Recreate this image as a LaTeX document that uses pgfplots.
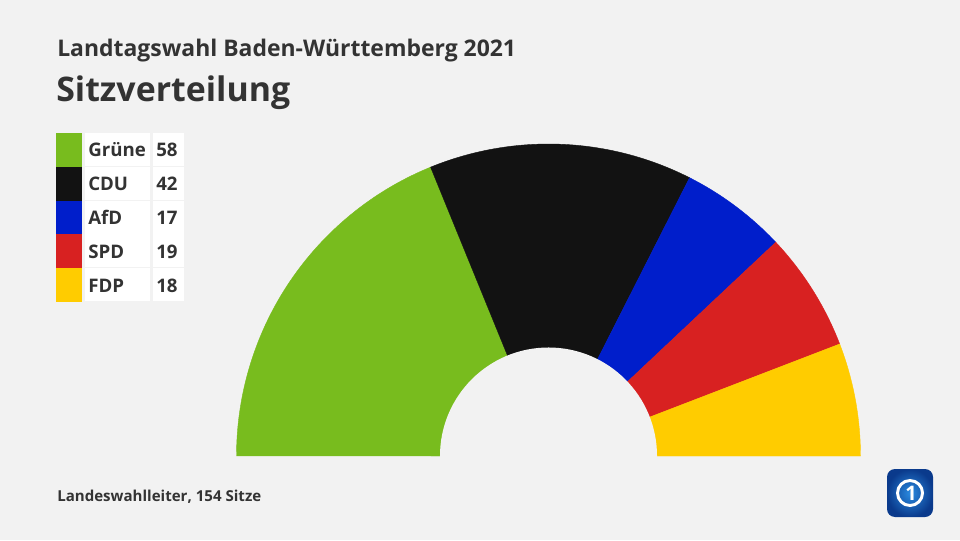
\documentclass[border=0pt]{standalone}
\usepackage{pgfplots}
\pgfplotsset{compat=1.18}
\usepackage{pgfplotstable}
\usepackage{fontspec}
\setmainfont{Open Sans}
\definecolor{bg}{HTML}{F2F2F2}
\definecolor{tc}{HTML}{333333}
\definecolor{cGruene}{HTML}{78BC1E}
\definecolor{cCDU}{HTML}{121212}
\definecolor{cAfD}{HTML}{001ECB}
\definecolor{cSPD}{HTML}{D82121}
\definecolor{cFDP}{HTML}{FFCC00}
\definecolor{logoA}{HTML}{2A8AE0}
\definecolor{logoB}{HTML}{0A3A8C}

\pgfplotstableread{
party seats
Grüne 58
CDU 42
AfD 17
SPD 19
FDP 18
}\seattable

\pgfplotstablegetelem{0}{seats}\of\seattable \edef\sA{\pgfplotsretval}
\pgfplotstablegetelem{1}{seats}\of\seattable \edef\sB{\pgfplotsretval}
\pgfplotstablegetelem{2}{seats}\of\seattable \edef\sC{\pgfplotsretval}
\pgfplotstablegetelem{3}{seats}\of\seattable \edef\sD{\pgfplotsretval}
\pgfplotstablegetelem{4}{seats}\of\seattable \edef\sE{\pgfplotsretval}
\pgfmathsetmacro\total{\sA+\sB+\sC+\sD+\sE}
\pgfmathsetmacro\tA{180}
\pgfmathsetmacro\tB{\tA-180*\sA/\total}
\pgfmathsetmacro\tC{\tB-180*\sB/\total}
\pgfmathsetmacro\tD{\tC-180*\sC/\total}
\pgfmathsetmacro\tE{\tD-180*\sD/\total}
\pgfmathsetmacro\tF{0}

\begin{document}
\begin{tikzpicture}
\begin{scope}[x=0.75pt,y=0.75pt]
\fill[bg] (0,0) rectangle (960,540);
\end{scope}
\begin{axis}[
  at={(177.375pt,63pt)}, anchor=south west,
  scale only axis, width=468pt, height=234pt,
  xmin=-1, xmax=1, ymin=0, ymax=1,
  hide axis, clip=false,
]
\addplot[fill=cGruene, draw=cGruene, line width=0.3pt, domain=\tB:\tA, samples=120, variable=\t] ({cos(\t)},{sin(\t)}) -- (0,0) -- cycle;
\addplot[fill=cCDU, draw=cCDU, line width=0.3pt, domain=\tC:\tB, samples=100, variable=\t] ({cos(\t)},{sin(\t)}) -- (0,0) -- cycle;
\addplot[fill=cAfD, draw=cAfD, line width=0.3pt, domain=\tD:\tC, samples=60, variable=\t] ({cos(\t)},{sin(\t)}) -- (0,0) -- cycle;
\addplot[fill=cSPD, draw=cSPD, line width=0.3pt, domain=\tE:\tD, samples=60, variable=\t] ({cos(\t)},{sin(\t)}) -- (0,0) -- cycle;
\addplot[fill=cFDP, draw=cFDP, line width=0.3pt, domain=\tF:\tE, samples=60, variable=\t] ({cos(\t)},{sin(\t)}) -- (0,0) -- cycle;
\begin{scope}
\clip (axis cs:-1,0) rectangle (axis cs:1,1);
\fill[bg] (axis cs:0,0) circle[radius=0.3478];
\end{scope}
\end{axis}
\begin{scope}[x=0.75pt,y=0.75pt]
% titles
\node[anchor=base west, inner sep=0, text=tc, font=\fontsize{17.2}{20}\selectfont\bfseries] at (57,483) {Landtagswahl Baden-Württemberg 2021};
\node[anchor=base west, inner sep=0, text=tc, font=\fontsize{25.4}{30}\selectfont\bfseries] at (56,438) {Sitzverteilung};
% legend
\foreach \i/\col/\name/\val in {0/cGruene/Grüne/\sA, 1/cCDU/CDU/\sB, 2/cAfD/AfD/\sC, 3/cSPD/SPD/\sD, 4/cFDP/FDP/\sE}{
  \pgfmathsetmacro\yt{540-133-33.8*\i}
  \fill[\col] (56,\yt) rectangle (82,\yt-33.8);
  \fill[white] (85,\yt) rectangle (150,\yt-33);
  \fill[white] (153,\yt) rectangle (184,\yt-33);
  \node[anchor=base west, inner sep=0, text=tc, font=\fontsize{14}{16}\selectfont\bfseries] at (88,\yt-24) {\name};
  \node[anchor=base west, inner sep=0, text=tc, font=\fontsize{14}{16}\selectfont\bfseries] at (156,\yt-24) {\val};
}
% footer
\node[anchor=base west, inner sep=0, text=tc, font=\fontsize{11.3}{14}\selectfont\bfseries] at (57,39) {Landeswahlleiter, 154 Sitze};
% logo
\shade[inner color=logoA, outer color=logoB, rounded corners=6] (887,23) rectangle (933,71);
\draw[white, line width=2.2pt] (910,47) circle[radius=12.5];
\node[text=white, inner sep=0, font=\fontsize{15}{15}\selectfont\bfseries] at (911,47) {1};
\end{scope}
\end{tikzpicture}
\end{document}
